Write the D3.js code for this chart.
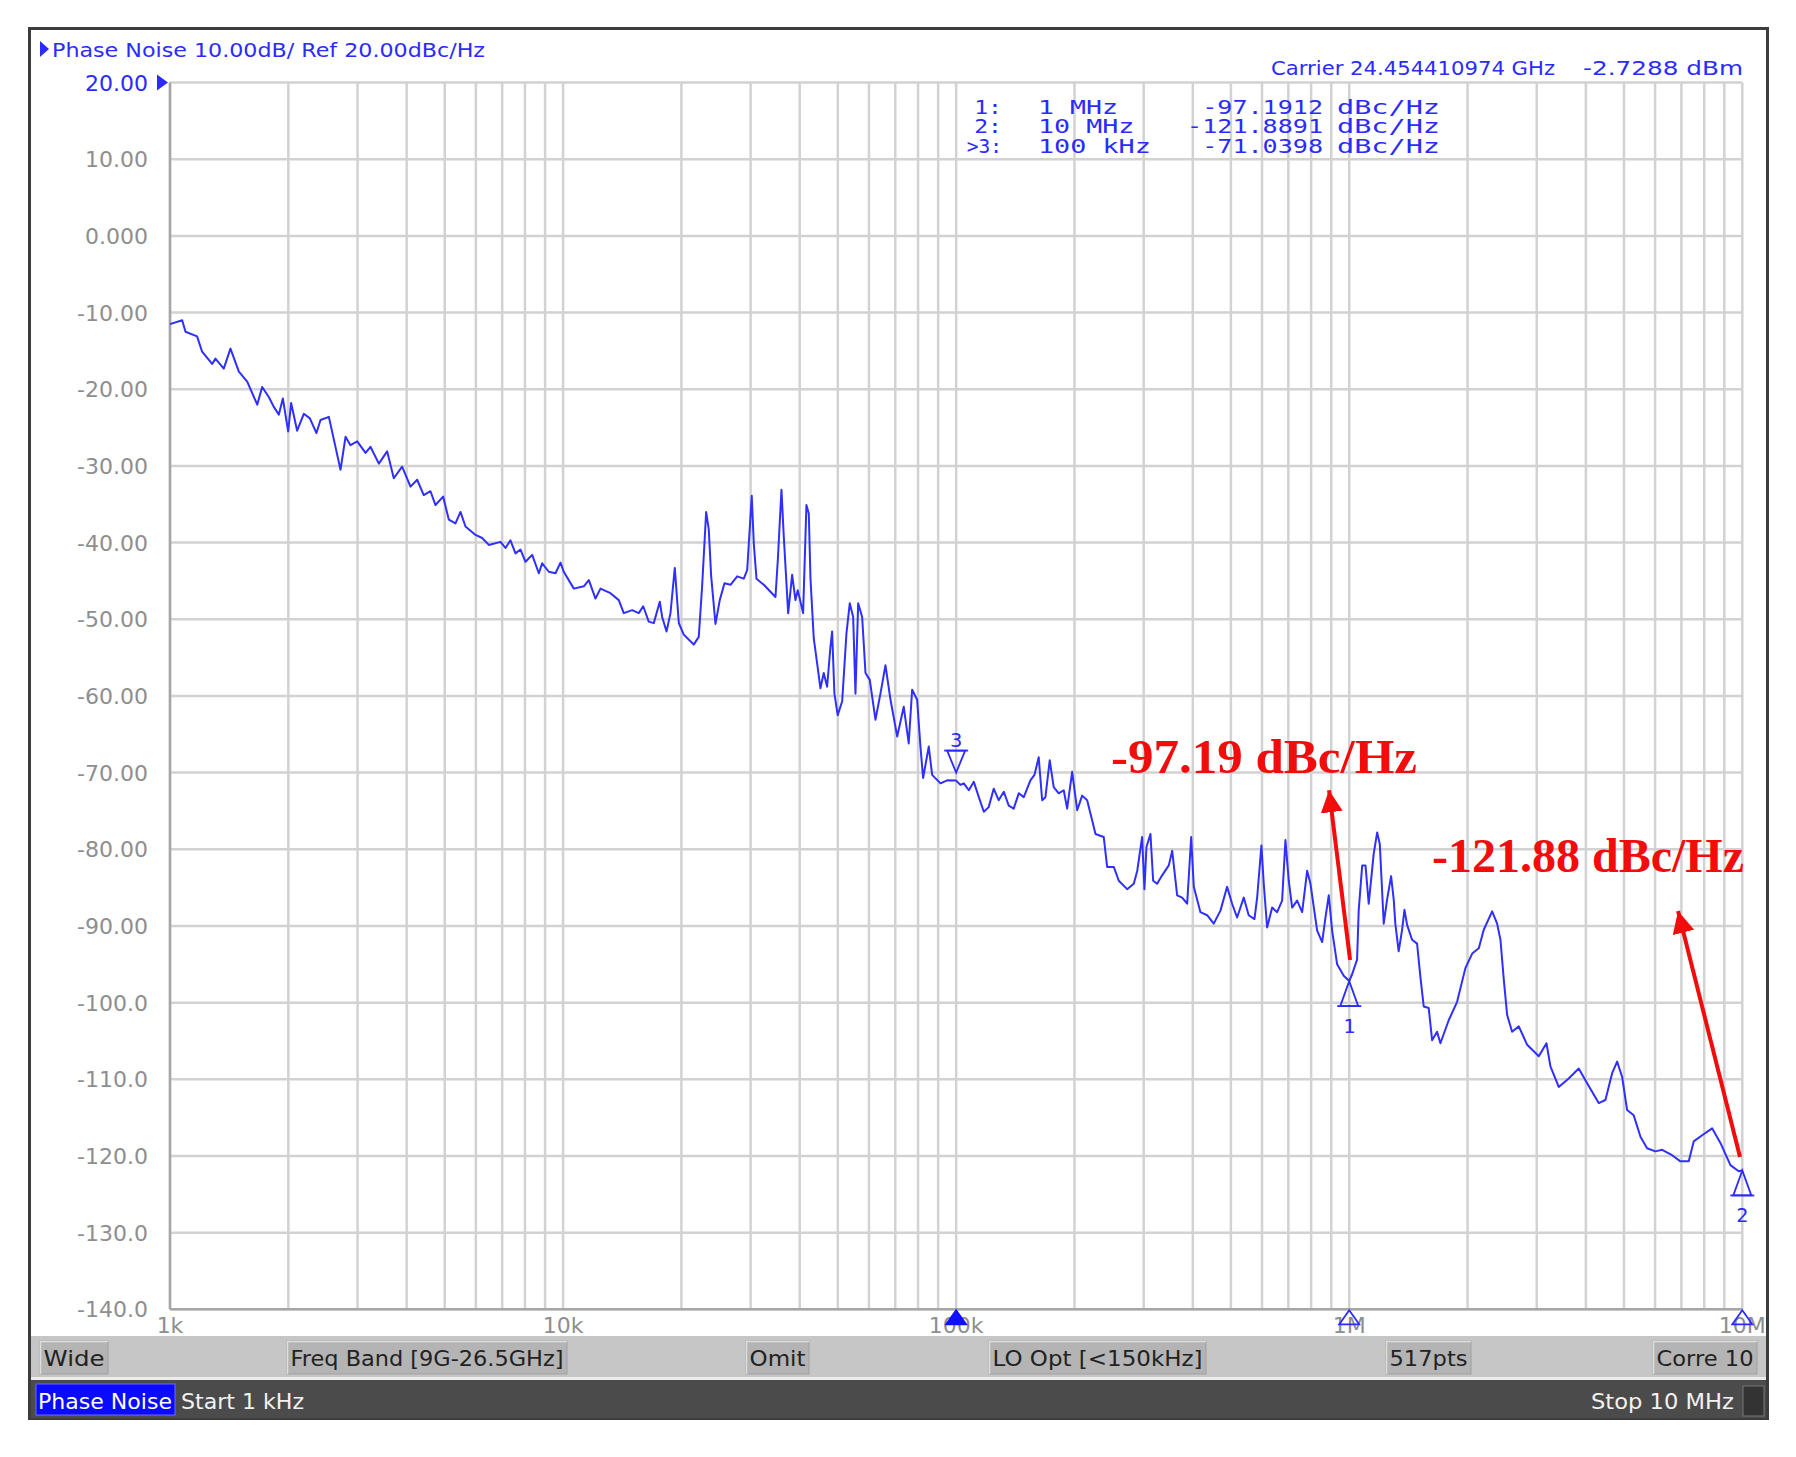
<!DOCTYPE html>
<html><head><meta charset="utf-8">
<script src="https://cdn.jsdelivr.net/npm/d3@7/dist/d3.min.js"></script>
<style>html,body{margin:0;padding:0;background:#fff}</style>
</head><body>
<svg id="c" width="1796" height="1457"></svg>
<script>
// ---- data: [offset frequency in kHz, phase noise in dBc/Hz] ----
const decade1 = [[1.000,-11.5],[1.074,-11.0],[1.095,-12.5],[1.172,-13.1],[1.207,-15.1],[1.280,-16.7],[1.305,-16.0],[1.370,-17.3],[1.425,-14.7],[1.497,-17.7],[1.572,-19.0],[1.667,-22.0],[1.716,-19.7],[1.784,-21.0],[1.837,-22.3],[1.892,-23.3],[1.937,-21.2],[1.998,-25.5],[2.033,-21.8],[2.106,-25.4],[2.190,-23.2],[2.269,-23.8],[2.358,-25.7],[2.415,-24.0],[2.536,-23.6],[2.715,-30.5],[2.796,-26.2],[2.878,-27.3],[2.994,-26.8],[3.144,-28.3],[3.236,-27.5],[3.399,-29.7],[3.568,-28.1],[3.710,-31.6],[3.895,-30.1],[4.091,-32.7],[4.254,-31.8],[4.421,-33.8],[4.599,-33.3],[4.736,-35.1],[4.953,-34.0],[5.120,-37.0],[5.324,-37.5],[5.483,-36.0],[5.646,-37.9],[5.988,-39.0],[6.225,-39.4],[6.474,-40.3],[6.929,-39.9],[7.137,-40.7],[7.348,-39.7],[7.567,-41.4],[7.792,-40.9],[8.025,-42.5],[8.344,-41.6],[8.676,-44.0],[8.848,-42.7],[9.199,-43.8],[9.566,-44.0],[9.849,-42.6]];
const decade2 = [[10.04,-43.8],[10.65,-46.0],[11.29,-45.7],[11.63,-44.9],[12.09,-47.3],[12.45,-46.0],[13.20,-46.6],[13.86,-47.5],[14.27,-49.2],[14.99,-48.8],[15.58,-49.2],[15.99,-48.3],[16.52,-50.3],[17.01,-50.5],[17.62,-47.7],[17.87,-49.7],[18.33,-51.6],[18.76,-49.2],[19.24,-43.3],[19.70,-50.5],[20.28,-52.0],[21.50,-53.3],[22.14,-52.3],[22.58,-45.7],[23.12,-36.0],[23.48,-38.3],[23.81,-44.4],[24.42,-50.6],[25.04,-47.5],[25.74,-45.3],[26.66,-45.5],[27.73,-44.4],[28.82,-44.7],[29.40,-43.6],[30.20,-33.9],[30.56,-40.1],[31.05,-44.7],[32.41,-45.5],[34.70,-47.1],[35.18,-42.3],[35.94,-33.1],[36.43,-39.2],[37.38,-49.2],[38.26,-44.2],[39.01,-47.5],[39.54,-46.2],[40.80,-49.2],[41.60,-35.1],[42.18,-36.2],[42.60,-44.7],[43.43,-52.5],[44.12,-55.1],[45.16,-59.0],[46.04,-57.0],[46.96,-58.8],[47.88,-53.6],[48.36,-51.6],[49.01,-59.7],[49.97,-62.5],[51.29,-60.7],[52.60,-51.8],[53.63,-47.9],[54.70,-49.7],[55.44,-59.7],[56.33,-47.9],[57.66,-49.7],[58.80,-57.0],[60.29,-57.9],[62.33,-63.1],[64.18,-59.7],[66.10,-56.0],[68.08,-60.5],[70.80,-65.3],[73.56,-61.4],[75.74,-66.2],[77.27,-59.2],[79.56,-60.5],[81.12,-66.6],[82.40,-70.7],[85.18,-66.6],[86.88,-70.3],[91.24,-71.4],[94.87,-71.0]];
const decade3 = [[100.0,-71.04],[102.5,-71.6],[104.6,-71.4],[107.7,-72.3],[110.9,-71.2],[114.2,-73.2],[117.6,-75.1],[121.0,-74.5],[124.6,-72.1],[128.3,-73.6],[132.2,-72.5],[136.1,-74.3],[140.1,-74.7],[144.3,-72.7],[148.6,-73.2],[154.5,-71.0],[158.2,-70.3],[162.2,-68.0],[165.5,-73.6],[168.7,-73.2],[173.0,-68.4],[177.1,-71.9],[182.4,-72.7],[187.8,-72.3],[191.6,-74.7],[197.3,-69.9],[203.2,-74.9],[209.2,-73.0],[215.4,-73.6],[221.8,-76.2],[226.2,-78.0],[237.4,-78.4],[242.2,-82.3],[251.8,-82.3],[259.3,-84.1],[272.3,-85.2],[283.1,-84.5],[288.9,-82.8],[297.2,-78.4],[301.3,-85.2],[304.9,-79.7],[312.1,-78.0],[317.1,-84.1],[324.6,-84.5],[334.2,-83.4],[347.5,-82.1],[354.5,-80.2],[365.0,-86.0],[375.8,-86.3],[387.0,-87.1],[396.2,-78.4],[402.3,-84.9],[418.3,-88.2],[435.1,-88.6],[452.2,-89.7],[470.3,-88.0],[489.0,-84.9],[503.6,-87.1],[518.5,-88.9],[539.0,-86.3],[555.0,-88.6],[574.0,-89.1],[583.1,-86.3],[597.9,-79.5],[606.1,-84.5],[618.2,-90.2],[636.6,-87.6],[655.5,-88.2],[675.0,-86.7],[688.2,-78.8],[701.7,-84.1],[715.8,-87.6],[737.0,-86.7],[759.0,-88.2],[781.6,-82.8],[796.9,-84.5],[828.7,-90.6],[853.3,-92.1],[870.0,-88.9],[886.9,-86.0],[904.8,-90.6],[931.6,-95.0],[968.3,-96.5]];
const decade4 = [[1000,-97.19],[1017,-96.3],[1047,-94.4],[1057,-88.0],[1079,-82.1],[1100,-82.1],[1121,-87.1],[1154,-80.6],[1178,-77.8],[1196,-79.3],[1224,-89.7],[1248,-86.6],[1278,-83.5],[1298,-86.6],[1310,-89.7],[1336,-93.3],[1363,-90.5],[1382,-87.9],[1404,-89.9],[1445,-91.8],[1488,-92.3],[1517,-96.6],[1547,-100.5],[1593,-100.7],[1625,-104.9],[1673,-103.8],[1706,-105.3],[1791,-102.3],[1881,-99.9],[1975,-95.5],[2055,-93.6],[2136,-92.9],[2199,-90.5],[2310,-88.1],[2378,-89.7],[2425,-91.8],[2473,-97.0],[2522,-101.6],[2596,-103.8],[2700,-103.1],[2836,-105.5],[3035,-107.0],[3175,-105.3],[3250,-108.3],[3412,-111.0],[3617,-109.9],[3836,-108.6],[4029,-110.5],[4313,-113.1],[4485,-112.7],[4665,-109.2],[4804,-107.7],[4947,-109.7],[5092,-114.0],[5294,-114.7],[5507,-117.5],[5725,-119.0],[6011,-119.4],[6252,-119.2],[6628,-119.9],[6961,-120.7],[7307,-120.7],[7523,-118.1],[7904,-117.3],[8379,-116.4],[8797,-118.3],[9328,-121.2],[9792,-122.0],[10000,-121.89]];

const yTickValues = [20,10,0,-10,-20,-30,-40,-50,-60,-70,-80,-90,-100,-110,-120,-130,-140];
const yTickLabels = ["20.00","10.00","0.000","-10.00","-20.00","-30.00","-40.00","-50.00","-60.00","-70.00","-80.00","-90.00","-100.0","-110.0","-120.0","-130.0","-140.0"];
const xTickValues = [1e3,1e4,1e5,1e6,1e7];
const xTickLabels = ["1k","10k","100k","1M","10M"];

const markerIds = ["1","2","3"];
const markerFreqs = [1e6,1e7,1e5];
const markerValues = [-97.1912,-121.8891,-71.0398];
const markerRowIds = ["1:","2:",">3:"];
const markerRowFreqText = ["1 MHz","10 MHz","100 kHz"];
const markerRowValueText = ["-97.1912","-121.8891","-71.0398"];

const annotTexts = ["-97.19 dBc/Hz","-121.88 dBc/Hz"];
const annotAnchors = [[247.7e3,-70.05],[1.624e6,-82.98]];
const arrowTails = [[1.005e6,-94.45],[9.867e6,-120.15]];
const arrowTips = [[888.5e3,-72.3],[6.864e6,-88.06]];

const buttonLabels = ["Wide","Freq Band [9G-26.5GHz]","Omit","LO Opt [<150kHz]","517pts","Corre 10"];
const headerText = "Phase Noise 10.00dB/ Ref 20.00dBc/Hz";
const carrierText = "Carrier 24.454410974 GHz";
const carrierPower = "-2.7288 dBm";

// ---- drawing ----
const svg = d3.select("#c");
const x = d3.scaleLog().domain([1e3,1e7]).range([170,1742.3]);
const y = d3.scaleLinear().domain([20,-140]).range([82.6,1309.3]);
const BLUE = "#2b2bff", GRAYTXT = "#8e8e8e", GRID = "#d2d2d2";
const SANS = "'DejaVu Sans', Verdana, sans-serif";
const MONO = "'DejaVu Sans Mono', monospace";

// outer frame
svg.append("rect").attr("x",29.5).attr("y",28.5).attr("width",1738).attr("height",1390)
  .attr("fill","#fff").attr("stroke","#3c3c3c").attr("stroke-width",3);

// grid
const g = svg.append("g");
g.selectAll("line.v").data(x.ticks()).join("line")
  .attr("x1",d=>x(d)).attr("x2",d=>x(d)).attr("y1",y(20)).attr("y2",y(-140))
  .attr("stroke",GRID).attr("stroke-width",2.5);
g.selectAll("line.h").data(yTickValues).join("line").attr("class","h")
  .attr("x1",x(1e3)).attr("x2",x(1e7)).attr("y1",d=>y(d)).attr("y2",d=>y(d))
  .attr("stroke",GRID).attr("stroke-width",2.5);
g.append("line").attr("x1",x(1e3)).attr("x2",x(1e3)).attr("y1",y(20)).attr("y2",y(-140)).attr("stroke","#a6a6a6").attr("stroke-width",2.5);
g.append("line").attr("x1",x(1e3)).attr("x2",x(1e7)).attr("y1",y(-140)).attr("y2",y(-140)).attr("stroke","#a6a6a6").attr("stroke-width",2.5);

// y tick labels
svg.selectAll("text.yl").data(yTickValues).join("text")
  .attr("x",148).attr("y",d=>y(d)+8).attr("text-anchor","end")
  .attr("font-family",SANS).attr("font-size",22)
  .attr("fill",(d,i)=>i===0?BLUE:GRAYTXT).text((d,i)=>yTickLabels[i]);
svg.append("path").attr("d",`M157,${y(20)-8} L168,${y(20)} L157,${y(20)+8} Z`).attr("fill",BLUE);

// x tick labels
svg.selectAll("text.xl").data(xTickValues).join("text")
  .attr("x",d=>x(d)).attr("y",1333).attr("text-anchor","middle")
  .attr("font-family",SANS).attr("font-size",22).attr("fill",GRAYTXT)
  .text((d,i)=>xTickLabels[i]);

// trace
const trace = [].concat(decade1,decade2,decade3,decade4).map(d=>({f:d[0]*1e3,v:d[1]}));
const line = d3.line().x(d=>x(d.f)).y(d=>y(d.v));
svg.append("path").datum(trace).attr("d",line).attr("fill","none")
  .attr("stroke","#2f2fff").attr("stroke-width",2).attr("stroke-linejoin","round");

// markers on trace
markerIds.forEach((id,i)=>{
  const px = x(markerFreqs[i]), py = y(markerValues[i]);
  const down = id==="3";
  let tri, barY, labY;
  if(down){ const a = py-8; tri = `M${px-9},${a-22} L${px+9},${a-22} L${px},${a} Z`; barY = a-22; labY = a-26; }
  else { tri = `M${px},${py} L${px-9},${py+25} L${px+9},${py+25} Z`; barY = py+25; labY = py+52; }
  svg.append("path").attr("d",tri).attr("fill","none").attr("stroke",BLUE).attr("stroke-width",1.8);
  svg.append("line").attr("x1",px-12).attr("x2",px+12).attr("y1",barY).attr("y2",barY).attr("stroke",BLUE).attr("stroke-width",1.8);
  svg.append("text").attr("x",px).attr("y",labY).attr("text-anchor","middle")
    .attr("font-family",MONO).attr("font-size",20).attr("fill",BLUE).text(id);
  const by = y(-140);
  const axTri = `M${px},${by+1} L${px-10},${by+15} L${px+10},${by+15} Z`;
  svg.append("path").attr("d",axTri).attr("fill",down?"#1010ff":"none")
    .attr("stroke",down?"#1010ff":BLUE).attr("stroke-width",1.8);
});

// header
svg.append("path").attr("d","M40,41 L49,49 L40,57 Z").attr("fill",BLUE);
svg.append("text").attr("x",52).attr("y",57).attr("font-family",SANS).attr("font-size",20)
  .attr("fill",BLUE).attr("textLength",433).attr("lengthAdjust","spacingAndGlyphs").text(headerText);
svg.append("text").attr("x",1271).attr("y",75).attr("font-family",SANS).attr("font-size",20)
  .attr("fill",BLUE).attr("textLength",284).attr("lengthAdjust","spacingAndGlyphs").text(carrierText);
svg.append("text").attr("x",1583).attr("y",75).attr("font-family",SANS).attr("font-size",20)
  .attr("fill",BLUE).attr("textLength",160).attr("lengthAdjust","spacingAndGlyphs").text(carrierPower);

// marker table
const pitch = 16.4;
markerRowIds.forEach((id,i)=>{
  const by = 114 + i*19.3;
  const t = (txt,xx,anchor,len)=>svg.append("text").attr("x",xx).attr("y",by).attr("text-anchor",anchor)
    .attr("font-family",MONO).attr("font-size",19.5).attr("fill",BLUE)
    .attr("textLength",len).attr("lengthAdjust","spacingAndGlyphs").text(txt);
  t(id,1002,"end",id.length*pitch - (id.length>2?14:5));
  t(markerRowFreqText[i],1038,"start",markerRowFreqText[i].length*pitch-2);
  t(markerRowValueText[i],1323,"end",markerRowValueText[i].length*15.1);
  t("dBc/Hz",1337,"start",103);
});

// red annotations
const RED = "#f20c0c";
svg.append("defs").append("marker").attr("id","ah").attr("viewBox","0 0 10 10")
  .attr("refX",10).attr("refY",5).attr("markerWidth",5.5).attr("markerHeight",5.5)
  .attr("markerUnits","strokeWidth").attr("orient","auto")
  .append("path").attr("d","M0,0 L10,5 L0,10 Z").attr("fill",RED);
arrowTails.forEach((t,i)=>{
  svg.append("line").attr("x1",x(t[0])).attr("y1",y(t[1]))
    .attr("x2",x(arrowTips[i][0])).attr("y2",y(arrowTips[i][1]))
    .attr("stroke",RED).attr("stroke-width",4).attr("marker-end","url(#ah)");
});
const annotWidths = [306,312];
annotTexts.forEach((s,i)=>{
  svg.append("text").attr("x",x(annotAnchors[i][0])).attr("y",y(annotAnchors[i][1]))
    .attr("font-family","'Liberation Serif','Times New Roman',serif").attr("font-weight","bold")
    .attr("font-size",48).attr("fill",RED)
    .attr("textLength",annotWidths[i]).attr("lengthAdjust","spacingAndGlyphs").text(s);
});

// softkey bar
svg.append("rect").attr("x",31).attr("y",1336).attr("width",1735).attr("height",41).attr("fill","#c6c6c6");
svg.append("rect").attr("x",31).attr("y",1377).attr("width",1735).attr("height",3).attr("fill","#ececec");
const btnX = [[40,108],[287,567],[746,809],[989,1206],[1386,1471],[1653,1757]];
buttonLabels.forEach((b,i)=>{
  const [x0,x1] = btnX[i];
  svg.append("rect").attr("x",x0).attr("y",1341).attr("width",x1-x0).attr("height",33)
    .attr("fill","#b4b4b4").attr("stroke","#a0a0a0").attr("stroke-width",1);
  svg.append("line").attr("x1",x0).attr("x2",x1).attr("y1",1341.5).attr("y2",1341.5).attr("stroke","#dedede").attr("stroke-width",1.5);
  svg.append("line").attr("x1",x0+0.5).attr("x2",x0+0.5).attr("y1",1341).attr("y2",1374).attr("stroke","#dedede").attr("stroke-width",1.5);
  svg.append("text").attr("x",(x0+x1)/2).attr("y",1366).attr("text-anchor","middle")
    .attr("font-family",SANS).attr("font-size",22).attr("fill","#222")
    .attr("textLength",x1-x0-7).attr("lengthAdjust","spacingAndGlyphs").text(b);
});

// status bar
svg.append("rect").attr("x",31).attr("y",1380).attr("width",1735).attr("height",38).attr("fill","#4b4b4b");
svg.append("rect").attr("x",36).attr("y",1384).attr("width",139).attr("height",31).attr("fill","#0a0aff").attr("stroke","#6a6aff").attr("stroke-width",1);
svg.append("text").attr("x",38).attr("y",1409).attr("font-family",SANS).attr("font-size",22).attr("fill","#fff")
  .attr("textLength",134).attr("lengthAdjust","spacingAndGlyphs").text("Phase Noise");
svg.append("text").attr("x",181).attr("y",1409).attr("font-family",SANS).attr("font-size",22).attr("fill","#f2f2f2")
  .attr("textLength",123).attr("lengthAdjust","spacingAndGlyphs").text("Start 1 kHz");
svg.append("text").attr("x",1734).attr("y",1409).attr("text-anchor","end").attr("font-family",SANS).attr("font-size",22).attr("fill","#f2f2f2")
  .attr("textLength",143).attr("lengthAdjust","spacingAndGlyphs").text("Stop 10 MHz");
svg.append("rect").attr("x",1743).attr("y",1386).attr("width",21).attr("height",30).attr("fill","#333").attr("stroke","#777").attr("stroke-width",1);
</script>
</body></html>
